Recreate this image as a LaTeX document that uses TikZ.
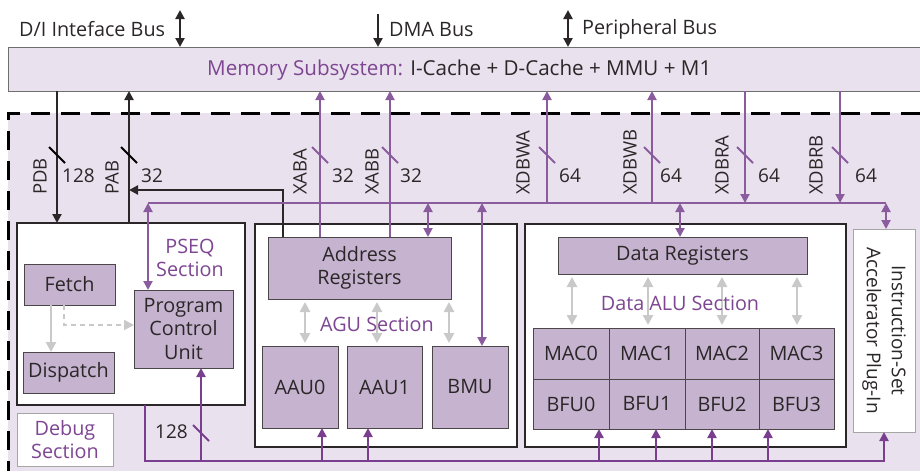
\documentclass[tikz,border=0pt]{standalone}
\usepackage{fontspec}
\setmainfont{Open Sans}
\usetikzlibrary{arrows.meta,calc}
\definecolor{lav}{HTML}{E9E1EE}
\definecolor{boxf}{HTML}{C6B3CF}
\definecolor{pl}{HTML}{8A5C9E}
\definecolor{pd}{HTML}{7A3E8F}
\definecolor{pt}{HTML}{7E4692}
\definecolor{ink}{HTML}{2B2728}
\definecolor{lg}{HTML}{C9C9C9}
\newcommand\mybox[7]{\node[#2, minimum width={#5-#3}, minimum height={#6-#4}, anchor=north west] (#1) at (#3,#4) {#7};}
\begin{document}
\begin{tikzpicture}[x=1pt,y=-1pt, font=\fontsize{19.8}{23.5}\selectfont, text=ink,
 >={Triangle[length=9pt,width=9pt]},
 blk/.style={rectangle, draw=ink, line width=2.5pt, fill=white, inner sep=0pt, outer sep=0pt},
 fbox/.style={rectangle, draw=ink!85, line width=0.9pt, fill=boxf, inner sep=0pt, outer sep=0pt, align=center},
 wbox/.style={rectangle, draw=gray!70, line width=1pt, fill=white, inner sep=0pt, outer sep=0pt, align=center},
 bline/.style={draw=ink, line width=2.2pt},
 pline/.style={draw=pl, line width=2pt},
 dline/.style={draw=pd, line width=2.8pt},
 gline/.style={draw=lg, line width=2.5pt, >={Triangle[length=10pt,width=10pt]}},
 sl/.style={line width=1.8pt},
 rlab/.style={rotate=90, anchor=west, inner sep=0pt, font=\fontsize{18.5}{22}\selectfont},
 nlab/.style={anchor=west, inner sep=0pt},
 slab/.style={anchor=west, inner sep=0pt, font=\fontsize{19}{22}\selectfont},
 sect/.style={text=pt, align=center, inner sep=0pt}]
\useasboundingbox (0,0) rectangle (920,471);
% background region
\fill[lav] (8,113) rectangle (920,471);
\draw[line width=3pt, dash pattern=on 19pt off 11pt] (920,113) -- (8,113) -- (8,471);
% memory subsystem
\node[draw=gray!80!ink, line width=0.8pt, fill=lav, minimum width=914, minimum height=44, anchor=north west, inner sep=0pt, outer sep=0pt] (mem) at (8,47) {};
\node[nlab, font=\fontsize{20.6}{24}\selectfont] (memt) at (207,70) {\textcolor{pt}{Memory Subsystem:} I-Cache + D-Cache + MMU + M1};
% top labels
\node[nlab] (dil) at (19,29) {D/I Inteface Bus};
\node[nlab] (dmal) at (389,29) {DMA Bus};
\node[nlab] (perl) at (582,29) {Peripheral Bus};
\coordinate (diT) at (180,10);
\coordinate (dmaT) at (378,14);
\coordinate (perT) at (568,10);
\draw[bline,<->] (diT) -- (diT |- mem.north);
\draw[bline,->] (dmaT) -- (dmaT |- mem.north);
\draw[bline,<->] (perT) -- (perT |- mem.north);
% main blocks
\mybox{pseq}{blk}{17}{223}{245}{405}{}
\mybox{agu}{blk}{255}{224}{517}{447}{}
\mybox{dalu}{blk}{525}{224}{846}{447}{}
\mybox{isa}{wbox}{853}{229}{915}{432}{}
\node[rotate=-90, align=center, inner sep=0pt, font=\fontsize{19}{25}\selectfont] (isat) at (isa.center) {Instruction-Set\\Accelerator Plug-In};
\mybox{dbg}{wbox}{17}{413}{113}{466}{\textcolor{pt}{Debug}\\\textcolor{pt}{Section}}
% PSEQ internals
\mybox{fetch}{fbox}{24}{264}{115}{305}{Fetch}
\mybox{disp}{fbox}{23}{352}{114}{393}{Dispatch}
\mybox{pcu}{fbox}{134}{290}{233}{368}{Program\\Control\\Unit}
\node[sect] (pseql) at (190,258) {PSEQ\\Section};
\coordinate (fd) at (51,0);
\draw[gline,->] (fetch.south -| fd) -- (disp.north -| fd);
\coordinate (fp) at (64,325);
\draw[draw=lg, line width=1.5pt, dash pattern=on 5pt off 4pt, -{Triangle[length=10pt,width=10pt]}] (fetch.south -| fp) -- (fp) -- (fp -| pcu.west);
% AGU internals
\mybox{ar}{fbox}{268}{237}{451}{299}{Address\\Registers}
\mybox{aau0}{fbox}{262}{346}{338}{428}{AAU0}
\mybox{aau1}{fbox}{347}{346}{422}{428}{AAU1}
\mybox{bmu}{fbox}{432}{346}{508}{428}{BMU}
\foreach \xx [count=\i] in {305,377,449}{
  \coordinate (ga\i) at (\xx,0);
  \draw[gline,<->] ([yshift=-3pt]ar.south -| ga\i) -- ([yshift=3pt]aau0.north -| ga\i);
}
\node[sect] (agul) at (377,324) {AGU Section};
% Data ALU internals
\mybox{dr}{fbox}{558}{237}{807}{274}{Data Registers}
\mybox{mac0}{fbox}{533}{328}{609}{379}{MAC0}
\mybox{mac1}{fbox}{609}{328}{685}{379}{MAC1}
\mybox{mac2}{fbox}{685}{328}{759}{379}{MAC2}
\mybox{mac3}{fbox}{759}{328}{834}{379}{MAC3}
\mybox{bfu0}{fbox}{533}{379}{609}{429}{BFU0}
\mybox{bfu1}{fbox}{609}{379}{685}{429}{BFU1}
\mybox{bfu2}{fbox}{685}{379}{759}{429}{BFU2}
\mybox{bfu3}{fbox}{759}{379}{834}{429}{BFU3}
\foreach \xx [count=\i] in {572,648,722,797}{
  \coordinate (gd\i) at (\xx,0);
  \draw[gline,<->] ([yshift=-3pt]dr.south -| gd\i) -- ([yshift=3pt]mac0.north -| gd\i);
}
\node[sect] (dalul) at (680,303) {Data ALU Section};
% PDB / PAB
\coordinate (xpdb) at (57,155);
\coordinate (xpab) at (129,155);
\draw[bline,->] (mem.south -| xpdb) -- (pseq.north -| xpdb);
\draw[bline,->] (pseq.north -| xpab) -- (mem.south -| xpab);
\coordinate (parj) at (129,190);
\draw[bline,->] (ar.north -| 283,0) |- (parj);
\draw[sl] ($(xpdb)+(-8,-8)$) -- ($(xpdb)+(8,8)$);
\draw[sl] ($(xpab)+(-8,-8)$) -- ($(xpab)+(8,8)$);
\node[rlab] at (40,195) {PDB};
\node[rlab] at (112,195) {PAB};
\node[slab] at (62,176) {128};
\node[slab] at (141,176) {32};
% purple top bus
\coordinate (busL) at (148,203);
\coordinate (busR) at (886,203);
\draw[pline] (busL) -- (busR);
\draw[pline,<->] (busL) -- (busL |- pcu.north);
\coordinate (bAR) at (428,203);
\draw[pline,<->] (bAR) -- (bAR |- ar.north);
\coordinate (bBMU) at (482,203);
\draw[pline,<->] (bBMU) -- (bBMU |- bmu.north);
\coordinate (bDR) at (680,203);
\draw[pline,<->] (bDR) -- (bDR |- dr.north);
\draw[pline,<->] (busR) -- (busR |- isa.north);
% XAB buses
\foreach \xx/\lx/\nx/\nm/\w in {320/300/332/XABA/32, 390/372/400/XABB/32}{
  \coordinate (c\nm) at (\xx,155);
  \draw[pline,->] (ar.north -| c\nm) -- (mem.south -| c\nm);
  \draw[sl,pl] ($(c\nm)+(-8,-8)$) -- ($(c\nm)+(8,8)$);
  \node[rlab] at (\lx,195) {\nm};
  \node[slab] at (\nx,176) {\w};
}
\foreach \xx/\lx/\nx/\nm in {547/523/559/XDBWA, 652/630/660/XDBWB}{
  \coordinate (c\nm) at (\xx,155);
  \draw[pline,->] (busL -| c\nm) -- (mem.south -| c\nm);
  \draw[sl,pl] ($(c\nm)+(-8,-8)$) -- ($(c\nm)+(8,8)$);
  \node[rlab] at (\lx,195) {\nm};
  \node[slab] at (\nx,176) {64};
}
\foreach \xx/\lx/\nx/\nm in {745/722/758/XDBRA, 840/816/855/XDBRB}{
  \coordinate (c\nm) at (\xx,155);
  \draw[pline,->] (mem.south -| c\nm) -- (busL -| c\nm);
  \draw[sl,pl] ($(c\nm)+(-8,-8)$) -- ($(c\nm)+(8,8)$);
  \node[rlab] at (\lx,195) {\nm};
  \node[slab] at (\nx,176) {64};
}
% bottom bus
\coordinate (bb0) at (145,461);
\draw[dline,->] (bb0 |- pseq.south) -- (bb0) -- (bb0 -| isa.south) -- (isa.south);
\foreach \xx/\nd in {201/pcu,322/aau0,368/aau1,599/bfu0,656/bfu1,712/bfu2,768/bfu3}{
  \coordinate (u\nd) at (\xx,461);
  \draw[dline,->] (u\nd) -- (u\nd |- \nd.south);
}
\coordinate (s128) at (201,433);
\draw[sl,pd] ($(s128)+(-8,-8)$) -- ($(s128)+(8,8)$);
\node[anchor=east, inner sep=0pt, font=\fontsize{19}{22}\selectfont] at (188,432) {128};
\end{tikzpicture}
\end{document}
